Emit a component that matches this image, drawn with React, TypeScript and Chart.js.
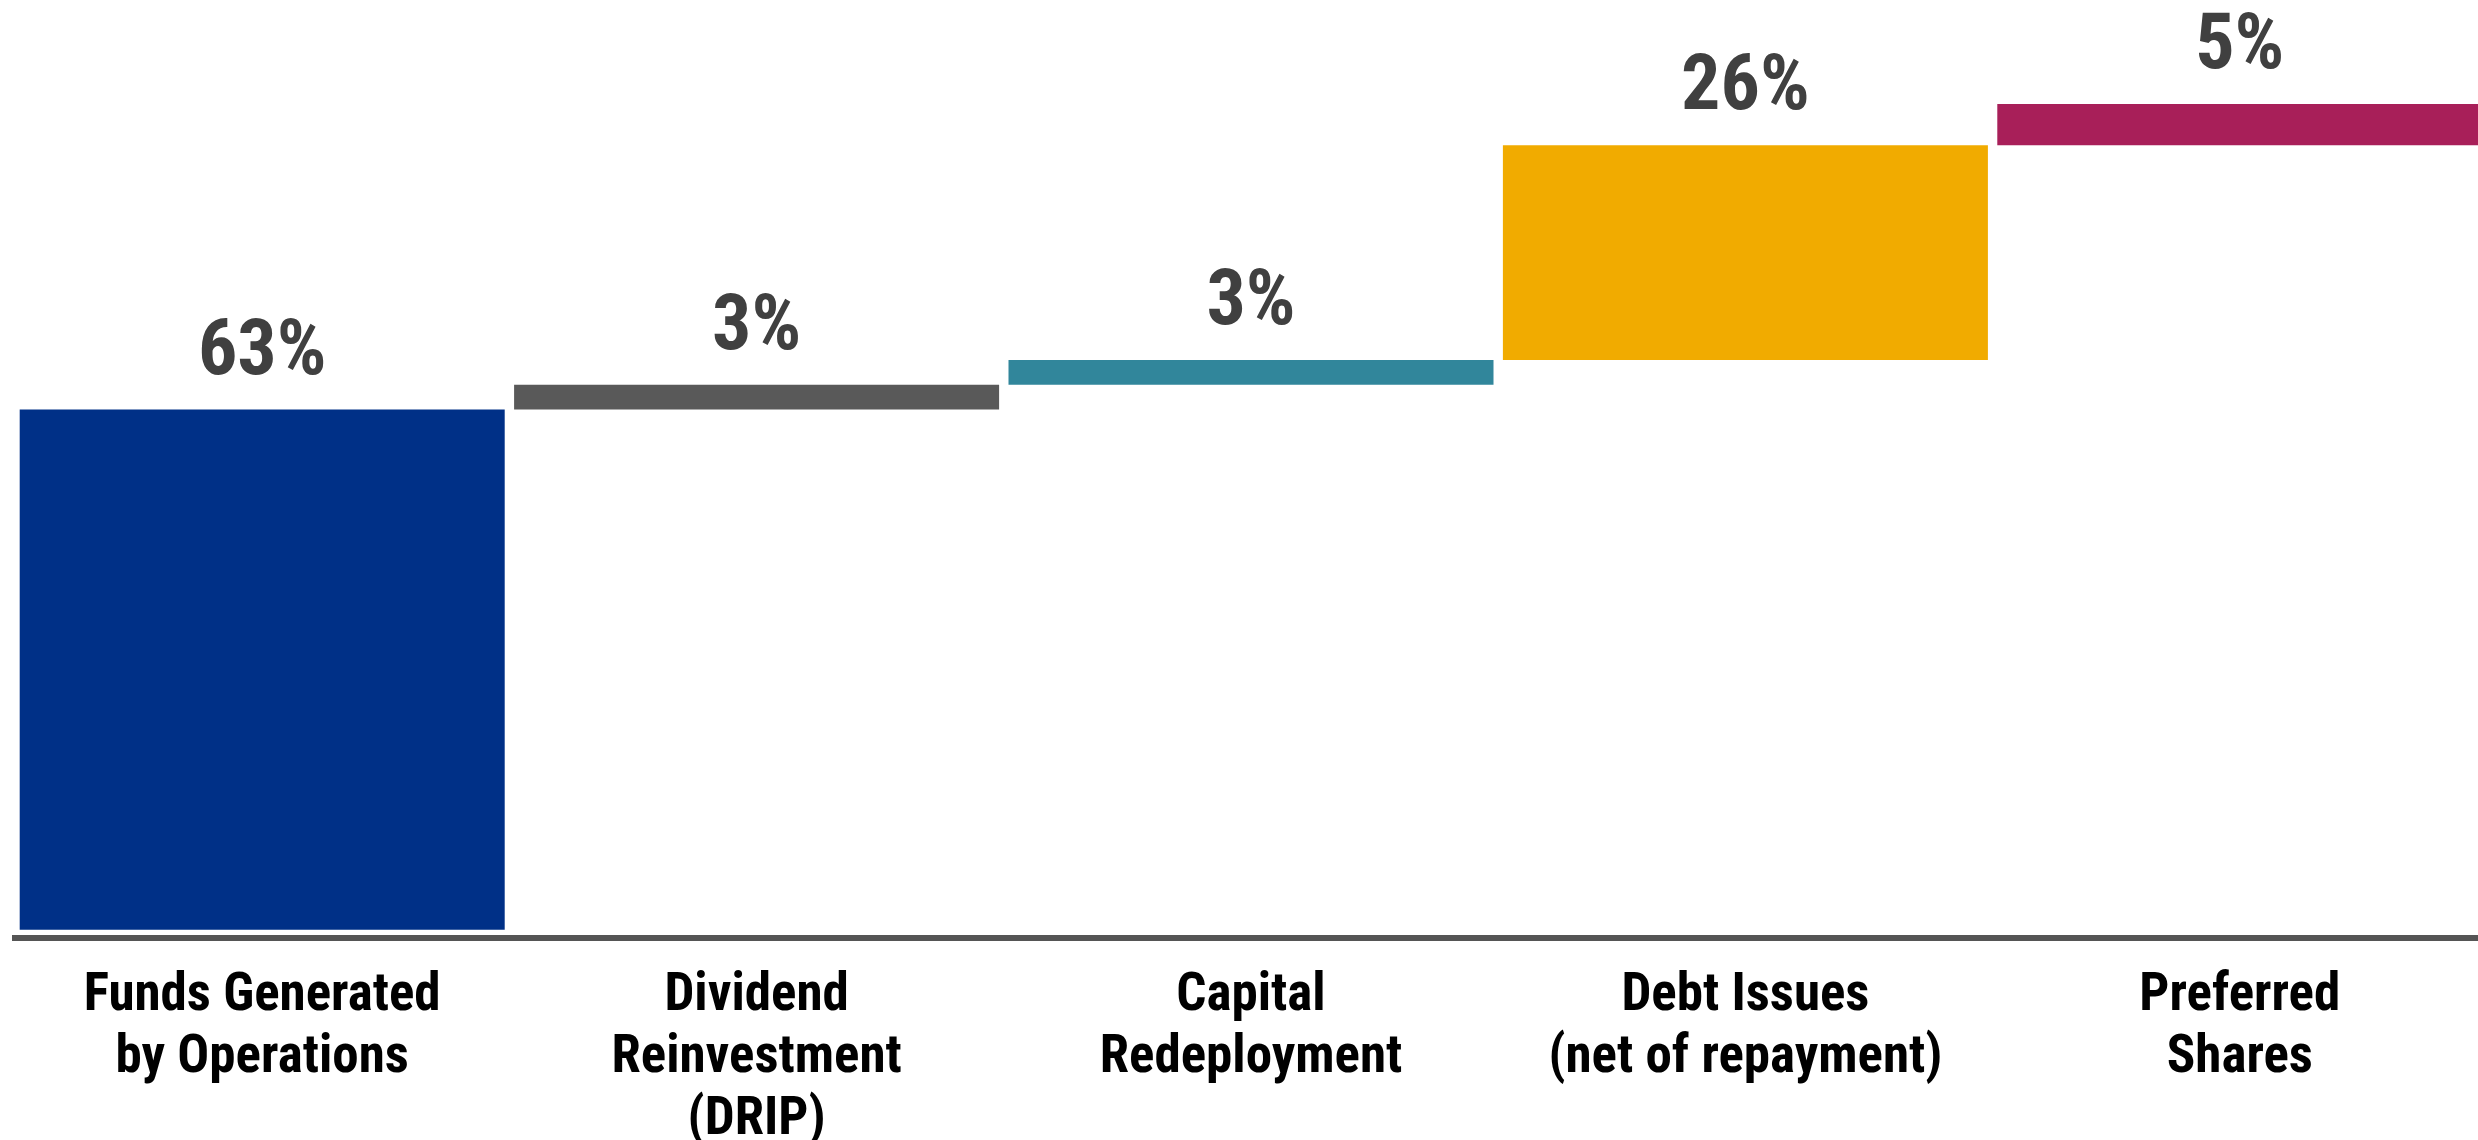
import React, { useEffect, useRef } from "react";
import { Chart, registerables } from "chart.js";

Chart.register(...registerables);

const categories: string[][] = [
  ["Funds Generated", "by Operations"],
  ["Dividend", "Reinvestment", "(DRIP)"],
  ["Capital", "Redeployment"],
  ["Debt Issues", "(net of repayment)"],
  ["Preferred", "Shares"],
];
const values: number[] = [63, 3, 3, 26, 5];
const barColors: string[] = ["#003087", "#595959", "#31869B", "#F1AB00", "#A81F59"];

const FONT = "'Liberation Sans Narrow', 'Roboto Condensed', 'Liberation Sans', sans-serif";

const valueLabelPlugin = {
  id: "valueLabels",
  afterDatasetsDraw(chart: any) {
    const ctx = chart.ctx;
    const meta = chart.getDatasetMeta(0);
    ctx.save();
    ctx.font = `bold condensed 78px ${FONT}`;
    ctx.fillStyle = "#404040";
    ctx.textAlign = "center";
    ctx.textBaseline = "alphabetic";
    meta.data.forEach((el: any, i: number) => {
      const top = Math.min(el.y, el.base);
      ctx.fillText(`${values[i]}%`, el.x, top - 36);
    });
    ctx.restore();
  },
};

export default function App() {
  const ref = useRef<HTMLCanvasElement | null>(null);
  useEffect(() => {
    if (!ref.current) return;
    let acc = 0;
    const floating = values.map((v) => {
      const r: [number, number] = [acc, acc + v];
      acc += v;
      return r;
    });
    const chart = new Chart(ref.current, {
      type: "bar",
      data: {
        labels: categories,
        datasets: [
          {
            data: floating as any,
            backgroundColor: barColors,
            borderWidth: 0,
            borderSkipped: false,
            categoryPercentage: 1,
            barPercentage: 0.981,
          },
        ],
      },
      options: {
        responsive: false,
        animation: false,
        devicePixelRatio: 1,
        layout: { padding: { top: 104, left: 15, right: 5, bottom: 0 } },
        plugins: { legend: { display: false }, tooltip: { enabled: false } },
        scales: {
          x: {
            grid: { display: false, drawTicks: false },
            border: { display: true, color: "#555555", width: 6 },
            ticks: {
              color: "#000000",
              autoSkip: false,
              maxRotation: 0,
              padding: 28,
              font: { family: FONT, size: 53, weight: "bold condensed" as any, lineHeight: 1.17 },
            },
          },
          y: { display: false, min: -1, max: 100 },
        },
      },
      plugins: [valueLabelPlugin],
    });
    return () => chart.destroy();
  }, []);
  return (
    <div
      style={{
        position: "fixed",
        left: 0,
        top: 0,
        width: 2478,
        height: 1140,
        overflow: "hidden",
        background: "#ffffff",
      }}
    >
      <canvas ref={ref} width={2492} height={1180} style={{ width: 2492, height: 1180, display: "block" }} />
    </div>
  );
}
